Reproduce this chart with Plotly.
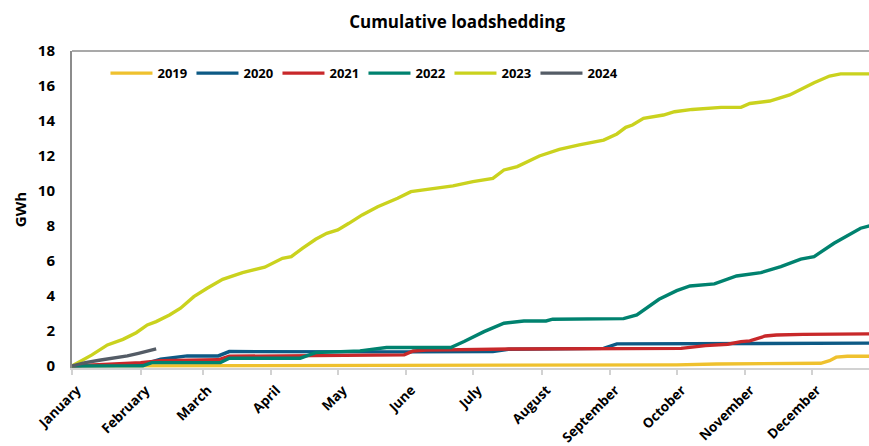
import plotly.graph_objects as go

# Day-of-year (0 = 1 January) and cumulative energy shed in GWh for each year
years = ["2019", "2020", "2021", "2022", "2023", "2024"]

days_2019 = [0, 150, 273, 291, 338, 342, 345, 350, 360]
gwh_2019 = [0, 0.02, 0.06, 0.11, 0.15, 0.30, 0.50, 0.55, 0.55]

days_2020 = [0, 31, 40, 52, 66, 71, 150, 190, 197, 240, 246, 360]
gwh_2020 = [0, 0.05, 0.38, 0.57, 0.57, 0.82, 0.80, 0.82, 0.95, 1.00, 1.26, 1.30]

days_2021 = [0, 31, 40, 66, 71, 150, 154, 160, 200, 240, 275, 286, 296, 302, 306, 313, 318, 330, 360]
gwh_2021 = [0, 0.19, 0.30, 0.35, 0.55, 0.63, 0.85, 0.90, 0.97, 1.00, 1.00, 1.16, 1.24, 1.39, 1.43, 1.71, 1.77, 1.80, 1.83]

days_2022 = [0, 32, 36, 67, 71, 103, 110, 130, 142, 171, 177, 186, 195, 204, 214, 217, 249, 255,
             265, 273, 279, 290, 300, 311, 320, 329, 335, 344, 356, 360]
gwh_2022 = [0, 0, 0.19, 0.19, 0.44, 0.44, 0.76, 0.86, 1.05, 1.05, 1.39, 1.96, 2.44, 2.57, 2.57, 2.67, 2.70, 2.91,
            3.81, 4.30, 4.57, 4.69, 5.14, 5.33, 5.67, 6.10, 6.25, 7.01, 7.87, 8.00]

days_2023 = [0, 9, 16, 23, 29, 34, 38, 44, 49, 55, 61, 68, 77, 82, 87, 95, 99, 104, 110, 115, 120,
             125, 131, 138, 147, 153, 163, 172, 181, 190, 195, 201, 211, 220, 229, 240, 246, 250,
             253, 258, 267, 272, 280, 288, 293, 302, 306, 315, 324, 335, 342, 347, 360]
gwh_2023 = [0, 0.63, 1.20, 1.52, 1.90, 2.34, 2.53, 2.91, 3.30, 3.96, 4.44, 4.95, 5.33, 5.49, 5.64, 6.15,
            6.25, 6.72, 7.24, 7.58, 7.77, 8.15, 8.63, 9.10, 9.58, 9.96, 10.15, 10.29, 10.53, 10.72, 11.20,
            11.39, 12.00, 12.38, 12.63, 12.91, 13.26, 13.64, 13.77, 14.15, 14.34, 14.53, 14.66, 14.76,
            14.78, 14.78, 15.00, 15.14, 15.49, 16.19, 16.57, 16.69, 16.69]

days_2024 = [0, 6, 13, 18, 25, 30, 38]
gwh_2024 = [0, 0.19, 0.34, 0.44, 0.57, 0.72, 0.97]

month_starts = [0, 31, 59, 90, 120, 151, 181, 212, 243, 273, 304, 334]
month_names = ["January", "February", "March", "April", "May", "June", "July",
               "August", "September", "October", "November", "December"]

colors = ["#EFC12E", "#0D5A85", "#C8282A", "#00826F", "#CAD21E", "#545C66"]

series = [
    (days_2019, gwh_2019),
    (days_2020, gwh_2020),
    (days_2021, gwh_2021),
    (days_2022, gwh_2022),
    (days_2023, gwh_2023),
    (days_2024, gwh_2024),
]

FONT = "Open Sans"

fig = go.Figure()
for name, (xs, ys), col in zip(years, series, colors):
    fig.add_trace(go.Scatter(
        x=xs, y=ys, name=name, mode="lines",
        line=dict(color=col, width=3.4),
    ))

fig.update_layout(
    width=869, height=446,
    margin=dict(l=72, r=0, t=51, b=78, autoexpand=False),
    paper_bgcolor="white", plot_bgcolor="white",
    font=dict(family=FONT, color="black"),
    title=dict(
        text="<b>Cumulative loadshedding</b>",
        x=0.526, xanchor="center", y=0.95, yanchor="middle",
        font=dict(size=17, family=FONT, color="black"),
    ),
    legend=dict(
        orientation="h", x=0.042, xanchor="left", y=0.93, yanchor="middle",
        font=dict(size=13, family="Liberation Sans Narrow, " + FONT, weight="bold"),
        entrywidth=29, entrywidthmode="pixels", itemwidth=42,
        bgcolor="rgba(0,0,0,0)", borderwidth=0,
    ),
    showlegend=True,
)

fig.update_xaxes(
    range=[0, 359.8], automargin=False,
    tickmode="array", tickvals=month_starts, ticktext=month_names,
    tickangle=-45, tickfont=dict(size=13.5, family=FONT, weight="bold"),
    ticklabelshift=5, ticklabelstandoff=2,
    showgrid=False, zeroline=False,
    showline=True, linecolor="#D2D2D2", linewidth=2,
    ticks="outside", ticklen=5, tickwidth=1.5, tickcolor="#D2D2D2",
)
fig.update_yaxes(
    range=[-0.12, 18], automargin=False, tickvals=list(range(0, 19, 2)),
    tickfont=dict(size=15, family=FONT, weight="bold"),
    ticklabelstandoff=12,
    showgrid=False, zeroline=False,
    showline=True, linecolor="#8C8C8C", linewidth=2,
    title=dict(text="<b>GWh</b>", font=dict(size=15, family=FONT), standoff=8),
)

# plot frame top edge
fig.add_shape(type="line", xref="paper", yref="paper", x0=0, x1=1, y0=1, y1=1,
              line=dict(color="#8C8C8C", width=1.5))

fig.write_html("out.html")
